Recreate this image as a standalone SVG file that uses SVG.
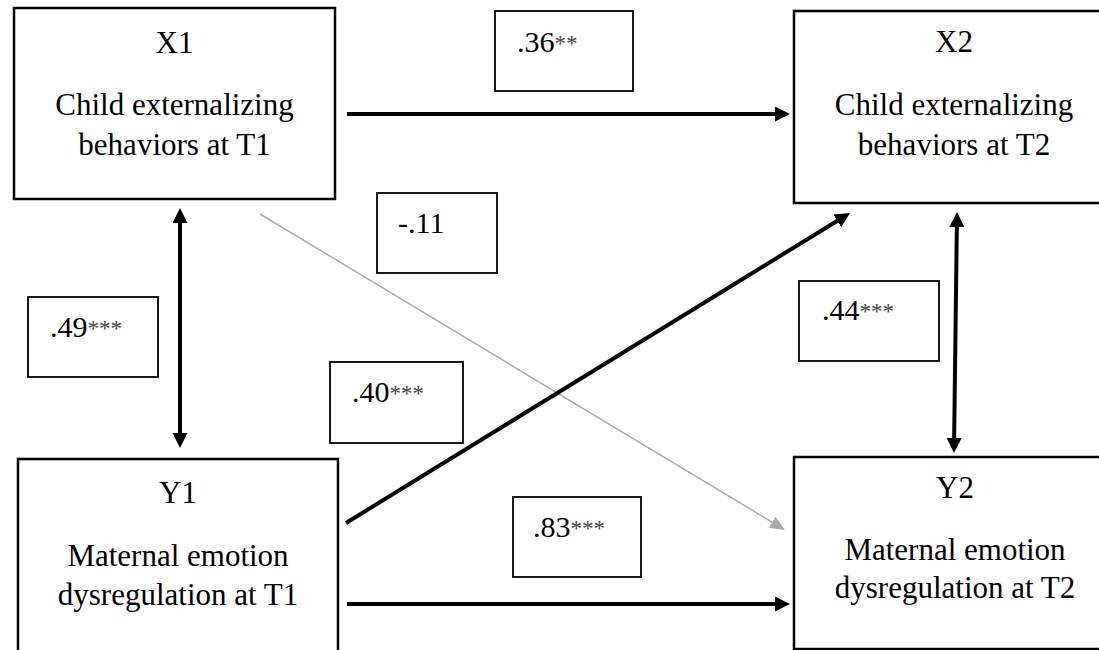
<svg xmlns="http://www.w3.org/2000/svg" width="1099" height="650" viewBox="0 0 1099 650" font-family="'Liberation Serif', 'DejaVu Serif', serif">
  <style>
    text { font-family: 'Liberation Serif', 'DejaVu Serif', serif; }
    .node rect { fill: #ffffff; stroke: #000000; stroke-width: 2.5; }
    .node text { font-size: 31px; fill: #000000; text-anchor: middle; }
    .label rect { fill: #ffffff; stroke: #000000; stroke-width: 1.8; }
    .label text { font-size: 30px; fill: #000000; }
    .label .sig { font-size: 23px; fill: #444444; }
    .path { fill: none; stroke: #000000; stroke-width: 4; }
    .path.weak { stroke: #aaaaaa; stroke-width: 1.5; }
  </style>
  <defs>
    <marker id="arrow" markerUnits="userSpaceOnUse" markerWidth="16" markerHeight="16" refX="5" refY="7.5" orient="auto-start-reverse">
      <path d="M0,0 L15,7.5 L0,15 z" fill="#000000"/>
    </marker>
    <marker id="arrow-grey" markerUnits="userSpaceOnUse" markerWidth="16" markerHeight="16" refX="5" refY="6.5" orient="auto">
      <path d="M0,0 L15,6.5 L0,13 z" fill="#aaaaaa"/>
    </marker>
  </defs>

  <!-- paths between the four measures -->
  <g id="connectors">
    <line class="path" x1="347" y1="114" x2="780" y2="114" marker-end="url(#arrow)"/>
    <line class="path" x1="180" y1="218" x2="180" y2="438" marker-start="url(#arrow)" marker-end="url(#arrow)"/>
    <line class="path weak" x1="260" y1="214" x2="776.4" y2="524.8" marker-end="url(#arrow-grey)"/>
    <line class="path" x1="346" y1="523" x2="841.5" y2="218.2" marker-end="url(#arrow)"/>
    <line class="path" x1="956.9" y1="222" x2="954.1" y2="443" marker-start="url(#arrow)" marker-end="url(#arrow)"/>
    <line class="path" x1="347" y1="604" x2="780" y2="604" marker-end="url(#arrow)"/>
  </g>

  <!-- coefficient labels -->
  <g id="coef-x1-x2" class="label">
    <rect x="495" y="11" width="138" height="80"/>
    <text x="517" y="52">.36<tspan class="sig" dy="-1">**</tspan></text>
  </g>
  <g id="coef-x1-y2" class="label">
    <rect x="377" y="193" width="120" height="80"/>
    <text x="398" y="233">-.11</text>
  </g>
  <g id="coef-x1-y1" class="label">
    <rect x="28" y="297" width="130" height="80"/>
    <text x="50" y="337">.49<tspan class="sig" dy="-1">***</tspan></text>
  </g>
  <g id="coef-y1-x2" class="label">
    <rect x="330" y="362" width="133" height="81"/>
    <text x="352" y="402">.40<tspan class="sig" dy="-1">***</tspan></text>
  </g>
  <g id="coef-x2-y2" class="label">
    <rect x="799" y="281" width="140" height="80"/>
    <text x="822" y="320">.44<tspan class="sig" dy="-1">***</tspan></text>
  </g>
  <g id="coef-y1-y2" class="label">
    <rect x="513" y="497" width="128" height="80"/>
    <text x="533" y="537">.83<tspan class="sig" dy="-1">***</tspan></text>
  </g>

  <!-- measures -->
  <g id="node-x1" class="node">
    <rect x="14" y="8" width="321" height="191"/>
    <text x="174.5" y="53">X1</text>
    <text x="174.5" y="115">Child externalizing</text>
    <text x="174.5" y="155">behaviors at T1</text>
  </g>
  <g id="node-x2" class="node">
    <rect x="794" y="11" width="322" height="192"/>
    <text x="954" y="52">X2</text>
    <text x="954" y="115">Child externalizing</text>
    <text x="954" y="155">behaviors at T2</text>
  </g>
  <g id="node-y1" class="node">
    <rect x="18" y="459" width="320" height="200"/>
    <text x="178" y="503">Y1</text>
    <text x="178" y="566">Maternal emotion</text>
    <text x="178" y="605">dysregulation at T1</text>
  </g>
  <g id="node-y2" class="node">
    <rect x="794" y="457" width="322" height="192"/>
    <text x="955" y="498">Y2</text>
    <text x="955" y="560">Maternal emotion</text>
    <text x="955" y="598">dysregulation at T2</text>
  </g>
</svg>
